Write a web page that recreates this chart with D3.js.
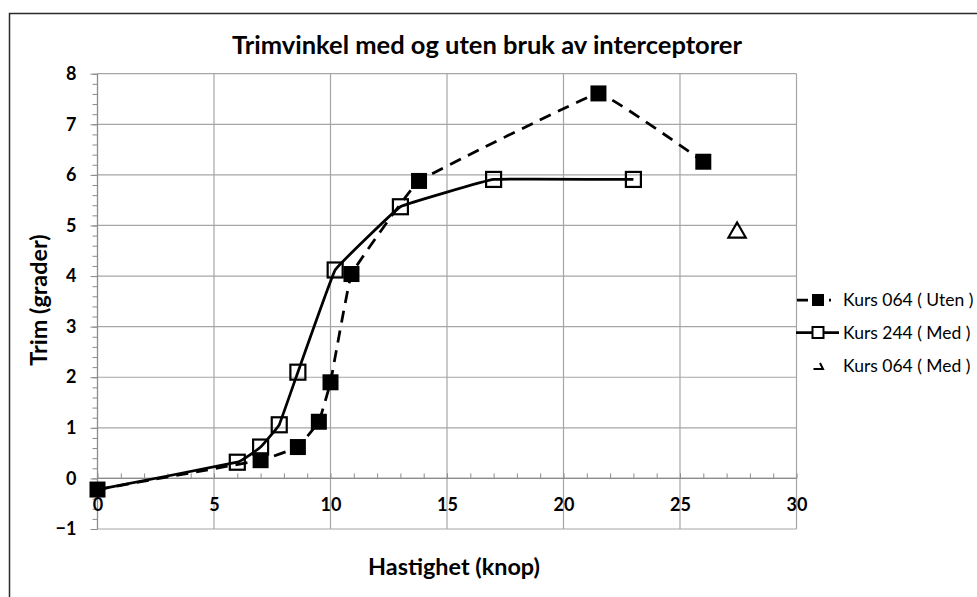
<!DOCTYPE html>
<html>
<head>
<meta charset="utf-8">
<script src="https://cdn.jsdelivr.net/npm/d3@7"></script>
<style>
  html, body { margin: 0; padding: 0; background: #fff; }
  svg { display: block; }
  text { font-family: Lato, "Open Sans", sans-serif; fill: #000; }
</style>
</head>
<body>
<svg id="chart" width="977" height="597"></svg>
<script>
// ---- data ----
const chartTitle = "Trimvinkel med og uten bruk av interceptorer";
const xTitle = "Hastighet (knop)";
const yTitle = "Trim (grader)";
const xTicks = [0, 5, 10, 15, 20, 25, 30];
const yTicks = [-1, 0, 1, 2, 3, 4, 5, 6, 7, 8];

const seriesNames = ["Kurs 064 ( Uten )", "Kurs 244 ( Med )", "Kurs 064 ( Med )"];

const uten064X = [0, 7, 8.6, 9.5, 10, 10.9, 13.8, 21.5, 26];
const uten064Y = [-0.22, 0.36, 0.62, 1.12, 1.9, 4.04, 5.88, 7.61, 6.26];

const med244X = [0, 6, 7, 7.8, 8.6, 10.2, 13, 17, 23];
const med244Y = [-0.22, 0.32, 0.62, 1.06, 2.1, 4.12, 5.37, 5.91, 5.91];

const med064X = [27.45];
const med064Y = [4.88];

// ---- layout ----
const svg = d3.select("#chart");
const x = d3.scaleLinear().domain([0, 30]).range([97.5, 796.5]);
const y = d3.scaleLinear().domain([-1, 8]).range([529, 73.7]);

// outer border
svg.append("rect")
  .attr("x", 9.5).attr("y", 13.5)
  .attr("width", 990).attr("height", 600)
  .attr("fill", "none").attr("stroke", "#2b2b2b").attr("stroke-width", 1.5);

// title
svg.append("text")
  .attr("x", 487).attr("y", 54)
  .attr("text-anchor", "middle")
  .style("font-weight", "bold").style("font-size", "25.5px")
  .text(chartTitle);

const grid = svg.append("g");
grid.selectAll("line.h").data(yTicks).enter().append("line")
  .attr("x1", x(0)).attr("x2", x(30))
  .attr("y1", d => y(d)).attr("y2", d => y(d))
  .attr("stroke", "#a6a6a6").attr("stroke-width", 1.2);
grid.selectAll("line.v").data(xTicks.filter(d => d > 0)).enter().append("line")
  .attr("x1", d => x(d)).attr("x2", d => x(d))
  .attr("y1", y(8)).attr("y2", y(-1))
  .attr("stroke", "#a6a6a6").attr("stroke-width", 1.2);

// y axis with minor ticks
const yMinor = d3.range(-1, 8.001, 0.2);
svg.append("g").attr("transform", `translate(${x(0)},0)`)
  .call(d3.axisLeft(y).tickValues(yMinor).tickSize(5).tickFormat(""))
  .call(g => g.select(".domain").remove())
  .call(g => g.selectAll("line").attr("stroke", "#8c8c8c").attr("stroke-width", 1));
svg.append("line")
  .attr("x1", x(0)).attr("x2", x(0)).attr("y1", y(8)).attr("y2", y(-1))
  .attr("stroke", "#8c8c8c").attr("stroke-width", 1.3);

const yAxis = svg.append("g").attr("transform", `translate(${x(0)},0)`)
  .call(d3.axisLeft(y).tickValues(yTicks).tickSize(7).tickPadding(14).tickFormat(d3.format("d")));
yAxis.select(".domain").remove();
yAxis.selectAll("line").attr("stroke", "#8c8c8c");
yAxis.selectAll("text").style("font-weight", "bold").style("font-size", "18px")
  .style("font-family", "Lato, sans-serif").attr("fill", "#000");

// x axis at y=0 with minor ticks upward
const xMinor = d3.range(0, 30.001, 1);
svg.append("g").attr("transform", `translate(0,${y(0)})`)
  .call(d3.axisTop(x).tickValues(xMinor).tickSize(5).tickFormat(""))
  .call(g => g.select(".domain").remove())
  .call(g => g.selectAll("line").attr("stroke", "#8c8c8c").attr("stroke-width", 1));
svg.append("line")
  .attr("x1", x(0)).attr("x2", x(30)).attr("y1", y(0)).attr("y2", y(0))
  .attr("stroke", "#8c8c8c").attr("stroke-width", 1.3);
const xAxis = svg.append("g").attr("transform", `translate(0,${y(0)})`)
  .call(d3.axisBottom(x).tickValues(xTicks).tickSize(0).tickPadding(20).tickFormat(d3.format("d")));
xAxis.select(".domain").remove();
xAxis.selectAll("text").style("font-weight", "bold").style("font-size", "18px")
  .style("font-family", "Lato, sans-serif").attr("fill", "#000");

// axis titles
svg.append("text")
  .attr("x", 454).attr("y", 575)
  .attr("text-anchor", "middle")
  .style("font-weight", "bold").style("font-size", "23.4px")
  .text(xTitle);
svg.append("text")
  .attr("transform", "translate(47,300) rotate(-90)")
  .attr("text-anchor", "middle")
  .style("font-weight", "bold").style("font-size", "23.4px")
  .text(yTitle);

// ---- series ----
const s1 = uten064X.map((d, i) => [d, uten064Y[i]]);
const s2 = med244X.map((d, i) => [d, med244Y[i]]);
const s3 = med064X.map((d, i) => [d, med064Y[i]]);

const line = d3.line().x(d => x(d[0])).y(d => y(d[1])).curve(d3.curveCardinal.tension(0.82));

svg.append("path").datum(s1).attr("d", line)
  .attr("fill", "none").attr("stroke", "#000").attr("stroke-width", 2.75)
  .attr("stroke-dasharray", "12,8");
svg.append("path").datum(s2).attr("d", line)
  .attr("fill", "none").attr("stroke", "#000").attr("stroke-width", 2.75);

// markers series 2 (open squares)
const ms2 = 15;
svg.selectAll("rect.s2").data(s2.slice(1)).enter().append("rect")
  .attr("x", d => x(d[0]) - ms2 / 2).attr("y", d => y(d[1]) - ms2 / 2)
  .attr("width", ms2).attr("height", ms2)
  .attr("fill", "none").attr("stroke", "#000").attr("stroke-width", 2.2);

// markers series 1 (filled squares)
const ms1 = 16;
svg.selectAll("rect.s1").data(s1).enter().append("rect")
  .attr("x", d => x(d[0]) - ms1 / 2).attr("y", d => y(d[1]) - ms1 / 2)
  .attr("width", ms1).attr("height", ms1)
  .attr("fill", "#000");

// series 3 triangle
const tri = d3.symbol().type(d3.symbolTriangle).size(130);
svg.selectAll("path.s3").data(s3).enter().append("path")
  .attr("transform", d => `translate(${x(d[0])},${y(d[1]) + 1})`)
  .attr("d", tri)
  .attr("fill", "none").attr("stroke", "#000").attr("stroke-width", 2.2);

// ---- legend ----
const legY = [300, 332.5, 366];
const lg = svg.append("g");
lg.append("line").attr("x1", 797).attr("x2", 831).attr("y1", legY[0]).attr("y2", legY[0])
  .attr("stroke", "#000").attr("stroke-width", 2.75).attr("stroke-dasharray", "11,5");
lg.append("rect").attr("x", 812).attr("y", legY[0] - 6).attr("width", 12).attr("height", 12).attr("fill", "#000");
lg.append("line").attr("x1", 796).attr("x2", 839).attr("y1", legY[1]).attr("y2", legY[1])
  .attr("stroke", "#000").attr("stroke-width", 2.75);
lg.append("rect").attr("x", 812.5).attr("y", legY[1] - 5.5).attr("width", 11).attr("height", 11)
  .attr("fill", "#fff").attr("stroke", "#000").attr("stroke-width", 2);
lg.append("path").attr("d", `M813.5,${legY[2] + 3} H823 L820,${legY[2] - 3}`)
  .attr("fill", "none").attr("stroke", "#000").attr("stroke-width", 2);

lg.selectAll("text").data(seriesNames).enter().append("text")
  .attr("x", 843).attr("y", (d, i) => legY[i] + 6)
  .style("font-size", "17.5px")
  .text(d => d);
</script>
</body>
</html>
